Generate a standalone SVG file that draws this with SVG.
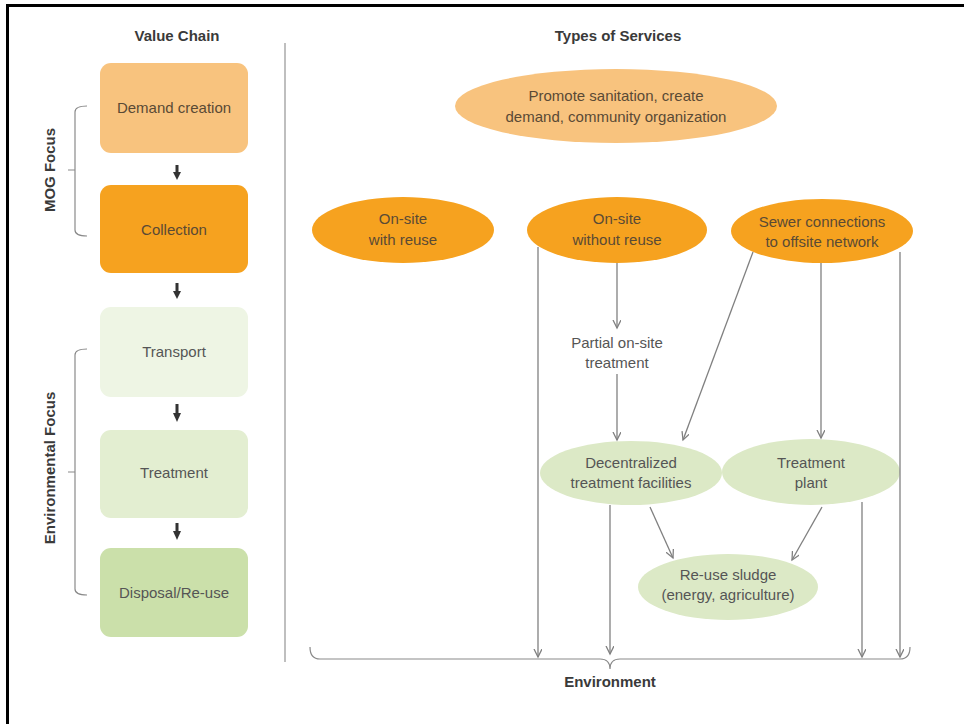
<svg xmlns="http://www.w3.org/2000/svg" width="964" height="724" viewBox="0 0 964 724">
<style>
text{font-family:"Liberation Sans",Arial,sans-serif;text-anchor:middle}
.t{font-size:15px;fill:#555}
.to{font-size:15px;fill:#5a4a35}
.h{font-size:15px;font-weight:bold;fill:#3a3a3a}
.c{stroke:#808080;stroke-width:1.3;fill:none;marker-end:url(#ah)}
.br{stroke:#8a8a8a;stroke-width:1.2;fill:none}
.lo{fill:#F8C37E}
.do{fill:#F6A21F}
.g{fill:#DCE9C6}
.blk{fill:#333}
</style>
<defs>
<marker id="ah" markerUnits="userSpaceOnUse" markerWidth="12" markerHeight="12" refX="8" refY="4" orient="auto">
<path d="M0,0 L8,4 L0,8" fill="none" stroke="#808080" stroke-width="1.3"/>
</marker>
</defs>
<rect width="964" height="724" fill="#fff"/>
<path d="M7.5,724 L7.5,5.5 L964,5.5" fill="none" stroke="#000" stroke-width="3"/>
<line x1="285" y1="43" x2="285" y2="662" stroke="#aaa" stroke-width="1.5"/>

<g id="titles">
<text class="h" x="177" y="41">Value Chain</text>
<text class="h" x="618" y="41">Types of Services</text>
</g>

<g id="mog-focus">
<path class="br" d="M87,106 Q75,106 75,112 L75,230 Q75,236 87,236 M75,170 L68,170"/>
<text class="h" transform="translate(55,170) rotate(-90)">MOG Focus</text>
</g>
<g id="env-focus">
<path class="br" d="M87,349 Q75,349 75,355 L75,589 Q75,595 87,595 M75,472 L68,472"/>
<text class="h" transform="translate(55,468) rotate(-90)">Environmental Focus</text>
</g>

<g id="demand-creation"><rect class="lo" x="100" y="63" width="148" height="90" rx="11"/><text class="to" x="174" y="113">Demand creation</text></g>
<g id="collection"><rect class="do" x="100" y="185" width="148" height="88" rx="11"/><text class="to" x="174" y="235">Collection</text></g>
<g id="transport"><rect fill="#EEF5E4" x="100" y="307" width="148" height="90" rx="11"/><text class="t" x="174" y="357">Transport</text></g>
<g id="treatment"><rect fill="#E3EED1" x="100" y="430" width="148" height="88" rx="11"/><text class="t" x="174" y="478">Treatment</text></g>
<g id="disposal"><rect fill="#CBE0AA" x="100" y="548" width="148" height="89" rx="11"/><text class="t" x="174" y="598">Disposal/Re-use</text></g>

<g id="chain-arrows">
<rect class="blk" x="175.5" y="165" width="3" height="8"/><path class="blk" d="M173,172 L181,172 L177,180 Z"/>
<rect class="blk" x="175.5" y="283" width="3" height="9"/><path class="blk" d="M173,291 L181,291 L177,299 Z"/>
<rect class="blk" x="175.5" y="404" width="3" height="10"/><path class="blk" d="M173,413 L181,413 L177,422 Z"/>
<rect class="blk" x="175.5" y="523" width="3" height="9"/><path class="blk" d="M173,531 L181,531 L177,540 Z"/>
</g>

<g id="promote"><ellipse class="lo" cx="616" cy="106" rx="161" ry="37"/><text class="to" x="616" y="101">Promote sanitation, create</text><text class="to" x="616" y="122">demand, community organization</text></g>
<g id="onsite-reuse"><ellipse class="do" cx="403" cy="230" rx="91" ry="33"/><text class="to" x="403" y="224">On-site</text><text class="to" x="403" y="245">with reuse</text></g>
<g id="onsite-noreuse"><ellipse class="do" cx="617" cy="230" rx="90" ry="33"/><text class="to" x="617" y="224">On-site</text><text class="to" x="617" y="245">without reuse</text></g>
<g id="sewer"><ellipse class="do" cx="822" cy="231" rx="91" ry="32"/><text class="to" x="822" y="227">Sewer connections</text><text class="to" x="822" y="247">to offsite network</text></g>
<g id="partial"><text class="t" x="617" y="348" fill="#666">Partial on-site</text><text class="t" x="617" y="368" fill="#666">treatment</text></g>
<g id="decentralized"><ellipse class="g" cx="631" cy="473" rx="91" ry="32"/><text class="t" x="631" y="468">Decentralized</text><text class="t" x="631" y="488">treatment facilities</text></g>
<g id="treatment-plant"><ellipse class="g" cx="811" cy="472" rx="89" ry="33"/><text class="t" x="811" y="468">Treatment</text><text class="t" x="811" y="488">plant</text></g>
<g id="reuse-sludge"><ellipse class="g" cx="728" cy="587" rx="90" ry="33"/><text class="t" x="728" y="580">Re-use sludge</text><text class="t" x="728" y="600">(energy, agriculture)</text></g>

<g id="environment">
<path class="br" d="M310,647 Q310,659 320,659 L600,659 Q610,659 610,669 Q610,659 620,659 L900,659 Q910,659 910,647"/>
<text class="h" x="610" y="687">Environment</text>
</g>

<g id="connectors">
<line class="c" x1="617" y1="263" x2="617" y2="328"/>
<line class="c" x1="617" y1="374" x2="617" y2="440"/>
<line class="c" x1="538" y1="247" x2="538" y2="657"/>
<line class="c" x1="753" y1="252" x2="683" y2="440"/>
<line class="c" x1="821" y1="263" x2="821" y2="438"/>
<line class="c" x1="900" y1="252" x2="900" y2="657"/>
<line class="c" x1="610" y1="505" x2="610" y2="654"/>
<line class="c" x1="650" y1="507" x2="673" y2="558"/>
<line class="c" x1="822" y1="507" x2="792" y2="560"/>
<line class="c" x1="862" y1="502" x2="862" y2="657"/>
</g>
</svg>
